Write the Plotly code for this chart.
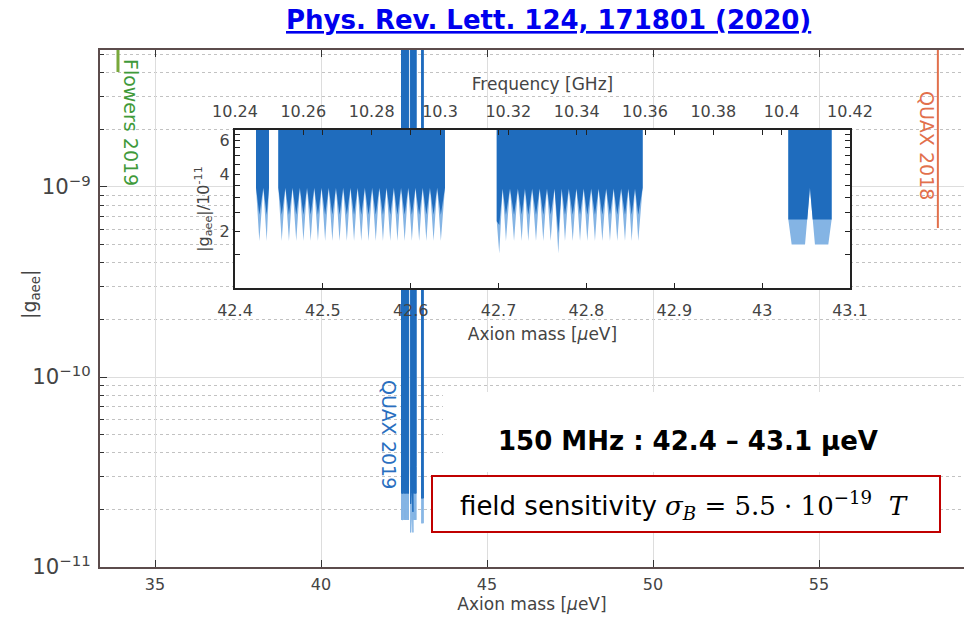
import plotly.graph_objects as go

# ---------------- data (inset units: |g_aee| / 1e-11, mass in micro-eV) ----------------
TOP = 1.0e3  # exclusion regions extend above both plots

# QUAX 2019 scan, block 1
b1_edges = [42.4239, 42.4387]
b1_edge_level = [3.39, 3.39]
b1_tips = [42.4277, 42.4361]
b1_apex = [42.4322]
b1_light_tip = [1.77, 1.77]
b1_dark_tip = [2.44, 2.44]
b1_apex_level = 3.39

# block 2
b2_edges = [42.4493, 42.6390]
b2_edge_level = [3.39, 3.39]
b2_tips = [42.4532, 42.4614, 42.4697, 42.4779, 42.4861, 42.4944, 42.5026, 42.5108,
           42.5190, 42.5273, 42.5355, 42.5437, 42.5520, 42.5602, 42.5684, 42.5767,
           42.5849, 42.5931, 42.6013, 42.6096, 42.6178, 42.6260, 42.6343]
b2_apex = [42.4573, 42.4655, 42.4738, 42.4820, 42.4902, 42.4985, 42.5067, 42.5149,
           42.5231, 42.5314, 42.5396, 42.5478, 42.5561, 42.5643, 42.5725, 42.5808,
           42.5890, 42.5972, 42.6054, 42.6137, 42.6219, 42.6301]
b2_light_tip = [1.77, 1.77, 1.77, 1.77, 1.77, 1.77, 1.77, 1.77, 1.77, 1.77, 1.77, 1.77,
                1.77, 1.77, 1.77, 1.77, 1.77, 1.77, 1.77, 1.77, 1.77, 1.77, 1.77]
b2_dark_tip = [2.44, 2.44, 2.44, 2.44, 2.44, 2.44, 2.44, 2.44, 2.44, 2.44, 2.44, 2.44,
               2.44, 2.44, 2.44, 2.44, 2.44, 2.44, 2.44, 2.44, 2.44, 2.44, 2.44]
b2_apex_level = 3.39

# block 3
b3_edges = [42.6979, 42.8640]
b3_edge_level = [2.25, 3.39]
b3_tips = [42.7008, 42.7084, 42.7176, 42.7263, 42.7338, 42.7426, 42.7509, 42.7593,
           42.7680, 42.7756, 42.7844, 42.7927, 42.8010, 42.8097, 42.8181, 42.8268,
           42.8351, 42.8439, 42.8515, 42.8590]
b3_apex = [42.7046, 42.7130, 42.7220, 42.7300, 42.7382, 42.7468, 42.7551, 42.7637,
           42.7718, 42.7800, 42.7886, 42.7969, 42.8054, 42.8139, 42.8225, 42.8310,
           42.8395, 42.8477, 42.8553]
b3_light_tip = [1.52, 1.77, 1.77, 1.77, 1.77, 1.77, 1.77, 1.77, 1.52, 1.77,
                1.77, 1.77, 1.77, 1.77, 1.77, 1.77, 1.77, 1.77, 1.77, 1.77]
b3_dark_tip = [2.15, 2.44, 2.44, 2.44, 2.44, 2.44, 2.44, 2.44, 1.95, 2.44,
               2.44, 2.44, 2.44, 2.44, 2.44, 2.44, 2.44, 2.44, 2.44, 2.44]
b3_apex_level = 3.36

# block 4 (two broad steps with flat bottoms)
b4_light_x = [43.0298, 43.0298, 43.0336, 43.0488, 43.0544, 43.0601, 43.0753, 43.0791, 43.0791]
b4_light_y = [TOP, 2.30, 1.70, 1.70, 3.39, 1.70, 1.70, 2.30, TOP]
b4_dark_x = [43.0298, 43.0298, 43.0514, 43.0544, 43.0575, 43.0791, 43.0791]
b4_dark_y = [TOP, 2.30, 2.30, 3.39, 2.30, 2.30, TOP]

# other experiments (main plot, mass in micro-eV, |g_aee| absolute)
flowers_mass = [33.885, 33.885]
flowers_g = [4.03e-9, 1.0e-7]
quax18_mass = [58.58, 58.58]
quax18_g = [6.08e-10, 1.0e-7]

SCALE = 1e-11

DARK = "#1f6cbd"
LIGHT = "#84b4e4"
TXT = "#444444"
FONT = "DejaVu Sans"
SLIDE = "DejaVu Sans"

# plot-area geometry helpers (pixels -> paper)
L, R, T, B = 100, 964, 50, 567
W, H = R - L, B - T


def px(xp):
    return (xp - L) / W


def py(yp):
    return (B - yp) / H


def teeth(edges, edge_level, tips, apex, tipvals, apex_level):
    xs = [edges[0], edges[0]]
    ys = [TOP, edge_level[0]]
    for i, t in enumerate(tips):
        xs.append(t)
        ys.append(tipvals[i])
        if i < len(apex):
            xs.append(apex[i])
            ys.append(apex_level)
    xs += [edges[1], edges[1]]
    ys += [edge_level[1], TOP]
    return xs, ys


blocks_light = [
    teeth(b1_edges, b1_edge_level, b1_tips, b1_apex, b1_light_tip, b1_apex_level),
    teeth(b2_edges, b2_edge_level, b2_tips, b2_apex, b2_light_tip, b2_apex_level),
    teeth(b3_edges, b3_edge_level, b3_tips, b3_apex, b3_light_tip, b3_apex_level),
    (b4_light_x, b4_light_y),
]
blocks_dark = [
    teeth(b1_edges, b1_edge_level, b1_tips, b1_apex, b1_dark_tip, b1_apex_level),
    teeth(b2_edges, b2_edge_level, b2_tips, b2_apex, b2_dark_tip, b2_apex_level),
    teeth(b3_edges, b3_edge_level, b3_tips, b3_apex, b3_dark_tip, b3_apex_level),
    (b4_dark_x, b4_dark_y),
]

fig = go.Figure()

# ---- main plot traces (outlined so the unresolved teeth render as solid bands) ----
for (xs, ys), col in [(b, LIGHT) for b in blocks_light] + [(b, DARK) for b in blocks_dark]:
    fig.add_trace(go.Scatter(x=xs, y=[v * SCALE for v in ys], mode="lines", fill="toself",
                             fillcolor=col, line=dict(color=col, width=1),
                             xaxis="x", yaxis="y", hoverinfo="skip", showlegend=False))
fig.add_trace(go.Scatter(x=flowers_mass, y=flowers_g, mode="lines",
                         line=dict(color="#78a83a", width=3), showlegend=False, hoverinfo="skip"))
fig.add_trace(go.Scatter(x=quax18_mass, y=quax18_g, mode="lines",
                         line=dict(color="#e2704c", width=2), showlegend=False, hoverinfo="skip"))

# ---- inset traces ----
for (xs, ys), col in [(b, LIGHT) for b in blocks_light] + [(b, DARK) for b in blocks_dark]:
    fig.add_trace(go.Scatter(x=xs, y=ys, mode="none", fill="toself", fillcolor=col,
                             xaxis="x2", yaxis="y2", hoverinfo="skip", showlegend=False))
# frequency axis anchor (invisible)
fig.add_trace(go.Scatter(x=[10.24, 10.42], y=[2, 2], mode="markers", marker=dict(opacity=0),
                         xaxis="x3", yaxis="y2", hoverinfo="skip", showlegend=False))

frame = "#5c4c4c"
fig.update_layout(
    width=964, height=624,
    margin=dict(l=L, r=0, t=T, b=624 - B, autoexpand=False),
    paper_bgcolor="white", plot_bgcolor="white",
    font=dict(family=FONT, color=TXT, size=15),
    showlegend=False,
    xaxis=dict(range=[33.343, 59.367], tick0=0, dtick=5, ticks="inside", ticklen=7,
               tickcolor="#333", showline=True, linecolor=frame, linewidth=2, mirror="ticks",
               showgrid=True, gridcolor="#dddddd", zeroline=False, automargin=False,
               tickfont=dict(size=16, color=TXT), ticklabelstandoff=2,
               title=dict(text="Axion mass [<i>μ</i>eV]", font=dict(size=17, color=TXT), standoff=4)),
    yaxis=dict(type="log", range=[-11, -8.279], dtick=1, exponentformat="power",
               ticks="inside", ticklen=7, tickcolor="#333", showline=True, linecolor=frame,
               linewidth=2, mirror=False, showgrid=True, gridcolor="#dddddd", zeroline=False,
               automargin=False, tickfont=dict(size=17, color=TXT), ticklabelstandoff=4,
               minor=dict(dtick="D1", ticks="inside", ticklen=4, tickcolor="#333",
                          showgrid=True, gridcolor="#c2c2c2", griddash="dot", gridwidth=1)),
    xaxis2=dict(domain=[px(235), px(850)], anchor="y2", range=[42.4, 43.1], tick0=42.4,
                dtick=0.1, ticks="inside", ticklen=5, tickcolor="#222", showline=True,
                linecolor="#222", linewidth=2, mirror="ticks", showgrid=False, zeroline=False,
                automargin=False, tickfont=dict(size=16, color=TXT), ticklabelstandoff=7,
                title=dict(text="Axion mass [<i>μ</i>eV]", font=dict(size=17, color=TXT), standoff=9)),
    yaxis2=dict(domain=[py(288), py(130)], anchor="x2", type="log", range=[0, 0.835],
                tickvals=[1.5, 2, 2.5, 3, 3.5, 4, 4.5, 5, 5.5, 6, 6.5],
                ticktext=["", "2", "", "", "", "4", "", "", "", "6", ""],
                ticks="inside", ticklen=5, tickcolor="#222", showline=True, linecolor="#222",
                linewidth=2, mirror="ticks", showgrid=False, zeroline=False, automargin=False,
                tickfont=dict(size=16, color=TXT),
                title=dict(text="|g<sub>aee</sub>|/10<sup>-11</sup>", font=dict(size=16, color=TXT),
                           standoff=6)),
    xaxis3=dict(overlaying="x2", anchor="y2", side="top", range=[10.24, 10.42], tick0=10.24,
                dtick=0.02, ticks="inside", ticklen=5, tickcolor="#222", showline=False,
                showgrid=False, zeroline=False, automargin=False,
                tickfont=dict(size=16, color=TXT), ticklabelstandoff=9,
                title=dict(text="Frequency [GHz]", font=dict(size=17, color=TXT), standoff=6)),
)

shapes = [
    # inset background (covers main grid and bands inside the inset frame)
    dict(type="rect", xref="x2", yref="y2", x0=42.3, x1=43.2, y0=-1, y1=2,
         fillcolor="white", line=dict(width=0), layer="below"),
    # white text box behind the range statement
    dict(type="rect", xref="paper", yref="paper", x0=px(443), x1=1.0, y0=py(472), y1=py(392),
         fillcolor="white", line=dict(width=0), layer="above"),
    # red framed box
    dict(type="rect", xref="paper", yref="paper", x0=px(432), x1=px(940), y0=py(532), y1=py(476),
         fillcolor="white", line=dict(color="#c00000", width=2), layer="above"),
]
fig.update_layout(shapes=shapes)

ann = [
    dict(text="<u><b>Phys. Rev. Lett. 124, 171801 (2020)</b></u>", x=px(548), y=py(20),
         font=dict(family=SLIDE, size=26, color="#0000ee")),
    dict(text="<b>150 MHz : 42.4 – 43.1 μeV</b>", x=px(688), y=py(441),
         font=dict(family=SLIDE, size=26, color="black")),
    dict(text="field sensitivity <span style=\"font-family:'DejaVu Serif'\"><i>σ<sub>B</sub></i> = 5.5 · 10<sup>−19</sup>  <i>T</i></span>",
         x=px(684), y=py(505), font=dict(family=SLIDE, size=26, color="black")),
    dict(text="|g<sub>aee</sub>|", x=px(30), y=py(295), textangle=-90,
         font=dict(family=FONT, size=19, color=TXT)),
    dict(text="Flowers 2019", x=px(131), y=py(122), textangle=90,
         font=dict(family=FONT, size=19, color="#3f9a3a")),
    dict(text="QUAX 2018", x=px(927), y=py(145), textangle=90,
         font=dict(family=FONT, size=19, color="#e2704c")),
    dict(text="QUAX 2019", x=px(389), y=py(434), textangle=90,
         font=dict(family=FONT, size=19, color="#2a6fc0")),
]
for a in ann:
    a.update(xref="paper", yref="paper", showarrow=False, xanchor="center", yanchor="middle")
fig.update_layout(annotations=ann)

fig.write_html("out.html", config={"displayModeBar": False})
